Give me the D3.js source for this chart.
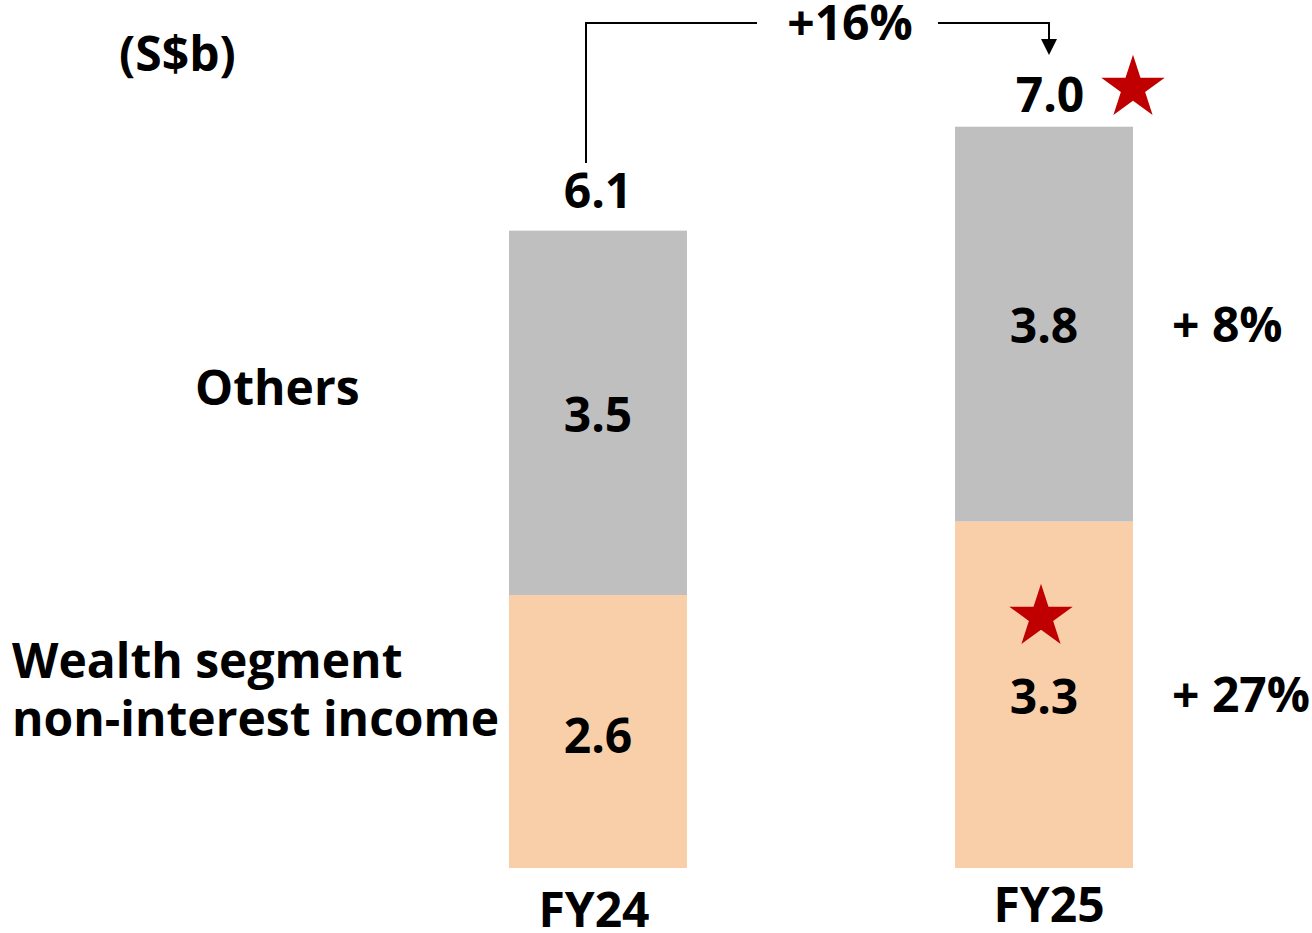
<!DOCTYPE html>
<html>
<head>
<meta charset="utf-8">
<script src="https://cdn.jsdelivr.net/npm/d3@7"></script>
<style>
  html, body { margin: 0; padding: 0; background: #fff; }
  svg { display: block; }
  text { font-family: "Open Sans", sans-serif; font-weight: 700; fill: #000; }
</style>
</head>
<body>
<svg id="chart" width="1312" height="933"></svg>
<script>
// ---- data ----
const categories = ["FY24", "FY25"];
const seriesNames = ["Wealth segment non-interest income", "Others"];
const wealthValues = [2.60, 3.30];
const othersValues = [3.47, 3.76];
const wealthLabels = ["2.6", "3.3"];
const othersLabels = ["3.5", "3.8"];
const totalLabels = ["6.1", "7.0"];
const growthLabels = ["+ 27%", "+ 8%"];   // wealth, others (FY25 vs FY24)
const totalGrowth = "+16%";
const unitLabel = "(S$b)";

const colors = { wealth: "#F8CFA8", others: "#BFBFBF", star: "#C00000" };

const svg = d3.select("#chart");
const fs = 48;

const x = d3.scaleBand().domain(categories).range([509, 1133]).paddingInner(0.601).paddingOuter(0);
const y = d3.scaleLinear().domain([0, 7]).range([868, 868 - 7 * 105]);
const cx = c => x(c) + x.bandwidth() / 2;

const rows = categories.map((c, i) => ({ cat: c, wealth: wealthValues[i], others: othersValues[i] }));
const stack = d3.stack().keys(["wealth", "others"])(rows);

svg.append("g").selectAll("g").data(stack).join("g")
  .attr("fill", d => colors[d.key])
  .selectAll("rect").data(d => d).join("rect")
  .attr("x", d => x(d.data.cat))
  .attr("width", x.bandwidth())
  .attr("y", d => y(d[1]))
  .attr("height", d => y(d[0]) - y(d[1]));

// segment labels
stack.forEach((layer, li) => {
  const labels = li === 0 ? wealthLabels : othersLabels;
  layer.forEach((d, i) => {
    svg.append("text")
      .attr("x", cx(d.data.cat))
      .attr("y", (y(d[0]) + y(d[1])) / 2 + (li === 0 && i === 0 ? 2 : 0))
      .attr("dy", "0.4em")
      .attr("text-anchor", "middle")
      .attr("font-size", fs)
      .text(labels[i]);
  });
});

// totals
categories.forEach((c, i) => {
  const top = y(wealthValues[i] + othersValues[i]);
  svg.append("text")
    .attr("x", cx(c) + (i === 1 ? 6 : 0))
    .attr("y", top - (i === 0 ? 23 : 15))
    .attr("text-anchor", "middle")
    .attr("font-size", fs)
    .text(totalLabels[i]);
});

// x axis labels
categories.forEach((c, i) => {
  svg.append("text")
    .attr("x", cx(c) + (i === 0 ? -4 : 5))
    .attr("y", i === 0 ? 927 : 922)
    .attr("text-anchor", "middle")
    .attr("font-size", fs)
    .text(c);
});

// growth labels on right
const rightX = x("FY25") + x.bandwidth() + 39;
const s25 = stack.map(l => l[1]);
svg.append("text").attr("x", rightX).attr("y", (y(s25[0][0]) + y(s25[0][1])) / 2).attr("dy", "0.36em")
  .attr("font-size", fs).text(growthLabels[0]);
svg.append("text").attr("x", rightX).attr("y", (y(s25[1][0]) + y(s25[1][1])) / 2).attr("dy", "0.38em")
  .attr("font-size", fs).text(growthLabels[1]);

// series labels on left
svg.append("text").attr("x", 195).attr("y", 405)
  .attr("font-size", fs).text(seriesNames[1]);
const wl = svg.append("text").attr("font-size", fs);
wl.append("tspan").attr("x", 12).attr("y", 678).text("Wealth segment");
wl.append("tspan").attr("x", 12).attr("y", 736).text("non-interest income");

// unit
svg.append("text").attr("x", 119).attr("y", 71).attr("font-size", fs).text(unitLabel);

// connector
const xL = 586;
const xR = 1049;
const yTop = 23;
svg.append("path")
  .attr("d", `M${xL},163 V${yTop} H757`)
  .attr("fill", "none").attr("stroke", "#000").attr("stroke-width", 2);
svg.append("path")
  .attr("d", `M938,${yTop} H${xR} V41`)
  .attr("fill", "none").attr("stroke", "#000").attr("stroke-width", 2);
svg.append("path")
  .attr("d", `M${xR - 8},39 L${xR + 8},39 L${xR},55 Z`).attr("fill", "#000");
svg.append("text").attr("x", 850).attr("y", 40)
  .attr("text-anchor", "middle").attr("font-size", fs).text(totalGrowth);

// stars
const star = d3.symbol().type(d3.symbolStar).size(1250);
svg.append("path").attr("d", star()).attr("fill", colors.star)
  .attr("transform", `translate(1133,88)`);
svg.append("path").attr("d", star()).attr("fill", colors.star)
  .attr("transform", `translate(${cx("FY25") - 3},617)`);
</script>
</body>
</html>
